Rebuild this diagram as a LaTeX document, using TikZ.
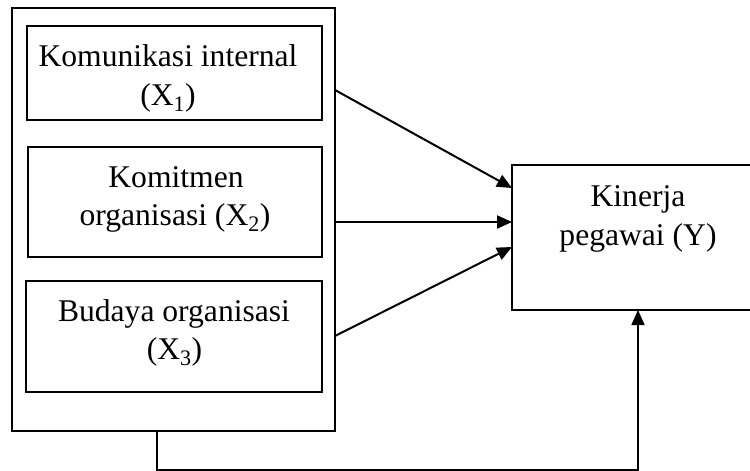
\documentclass[tikz,border=0pt]{standalone}
\usepackage{fontspec}
\setmainfont{Liberation Serif}
\usetikzlibrary{arrows.meta}
\tikzset{
  boxnode/.style={draw, line width=2pt, rectangle, inner sep=0pt, outer sep=0pt},
  lbl/.style={anchor=base, inner sep=0pt, font=\fontsize{31.6}{38}\selectfont},
  arr/.style={line width=2pt, -{Triangle[length=15pt,width=13pt]}},
  feed/.style={line width=1.6pt, -{Triangle[length=15pt,width=13pt]}}
}
\begin{document}
\begin{tikzpicture}[x=1pt,y=-1pt]
\useasboundingbox (0,0) rectangle (750,471);
\clip (0,0) rectangle (750,471);
% outer group box
\node[boxnode, minimum width=323pt, minimum height=423pt] (outer) at (173.5,219.5) {};
% inner boxes
\node[boxnode, minimum width=295pt, minimum height=94pt] (b1) at (174.5,73) {};
\node[boxnode, minimum width=294pt, minimum height=110pt] (b2) at (175,202) {};
\node[boxnode, minimum width=296pt, minimum height=111pt] (b3) at (174,336.5) {};
\node[boxnode, minimum width=252pt, minimum height=145pt] (Y) at (638,237.5) {};
% labels
\node[lbl] (t1a) at (168,66.7) {Komunikasi internal};
\node[lbl] (t1b) at (168,105) {(X\textsubscript{1})};
\node[lbl] (t2a) at (176,187.3) {Komitmen};
\node[lbl] (t2b) at (175,225) {organisasi (X\textsubscript{2})};
\node[lbl] (t3a) at (174,321) {Budaya organisasi};
\node[lbl] (t3b) at (174.5,359.5) {(X\textsubscript{3})};
\node[lbl] (tya) at (638,206.7) {Kinerja};
\node[lbl] (tyb) at (638,245) {pegawai (Y)};
% arrows
\draw[arr] (outer.east |- 0,90) -- (Y.west |- 0,188);
\draw[arr] (outer.east |- 0,222) -- (Y.west |- 0,222);
\draw[arr] (outer.east |- 0,336) -- (Y.west |- 0,247);
% feedback connector
\coordinate (c1) at (157,470);
\coordinate (c2) at (638,470);
\draw[feed] (outer.south -| c1) -- (c1) -- (c2) -- (Y.south -| c2);
\end{tikzpicture}
\end{document}
